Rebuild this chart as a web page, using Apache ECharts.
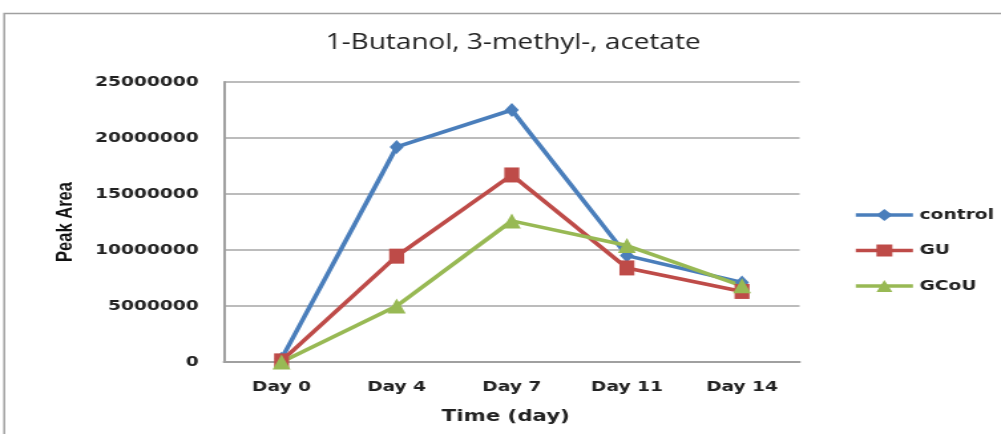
<!DOCTYPE html>
<html>
<head>
<meta charset="utf-8">
<script src="https://cdn.jsdelivr.net/npm/echarts@6/dist/echarts.min.js"></script>
<style>
  html, body { margin: 0; padding: 0; background: #fff; overflow: hidden; }
  /* the chart is laid out narrower and widened to the page width */
  #chart { width: 753px; height: 434px; transform: scaleX(1.3293); transform-origin: 0 0; }
</style>
</head>
<body>
<div id="chart"></div>
<script>
// Sampling days and peak areas per treatment
const days = ['Day 0', 'Day 4', 'Day 7', 'Day 11', 'Day 14'];
const controlValues = [300000, 19200000, 22500000, 9500000, 7100000];
const guValues = [100000, 9450000, 16700000, 8400000, 6300000];
const gcouValues = [0, 5000000, 12600000, 10400000, 6800000];
const yTicks = [0, 5000000, 10000000, 15000000, 20000000, 25000000];

const SX = 1.3293; // horizontal widening applied by CSS
const chart = echarts.init(document.getElementById('chart'));

const tickFont = { fontFamily: 'DejaVu Sans', fontSize: 14, color: '#222', fontWeight: 'bold' };

function line(name, data, color, symbol, w, h) {
  return {
    name, type: 'line', data,
    symbol, symbolSize: [w / SX, h],
    lineStyle: { color, width: 3.6 },
    itemStyle: { color },
    z: 3
  };
}

chart.setOption({
  animation: false,
  graphic: [{
    type: 'rect',
    shape: { x: 3.2, y: 13.5, width: 800, height: 440 },
    style: { fill: 'none', stroke: '#a0a0a0', lineWidth: 1.5 },
    z: -1
  }],
  title: {
    text: '1-Butanol, 3-methyl-, acetate',
    left: 381, top: 28, textAlign: 'center',
    textStyle: { fontFamily: 'Open Sans', fontSize: 21, fontWeight: 'normal', color: '#222' }
  },
  legend: {
    orient: 'vertical',
    left: 637, top: 203,
    itemWidth: 43, itemHeight: 15, itemGap: 21.5,
    lineStyle: { width: 3.6 },
    textStyle: { fontFamily: 'DejaVu Sans', fontSize: 14, fontWeight: 'bold', color: '#222' },
    data: ['control', 'GU', 'GCoU']
  },
  grid: { left: 168.5, right: 151.5, top: 82, bottom: 72 },
  xAxis: {
    type: 'category',
    data: days,
    boundaryGap: true,
    name: 'Time (day)',
    nameLocation: 'middle',
    nameGap: 47,
    nameTextStyle: { fontFamily: 'DejaVu Sans', fontSize: 16, fontWeight: 'bold', color: '#222', padding: [0, 9, 0, 0] },
    axisLine: { lineStyle: { color: '#a0a0a0', width: 2 } },
    axisTick: { show: false },
    axisLabel: Object.assign({ margin: 18 }, tickFont)
  },
  yAxis: {
    type: 'value',
    min: yTicks[0], max: yTicks[yTicks.length - 1], interval: 5000000,
    name: 'Peak Area',
    nameLocation: 'middle',
    nameGap: 111,
    nameTextStyle: { fontFamily: 'Liberation Sans', fontSize: 16.5, fontWeight: 'bold', color: '#111' },
    axisLine: { show: true, lineStyle: { color: '#a0a0a0', width: 2 } },
    axisTick: { show: false },
    splitLine: { lineStyle: { color: '#a6a6a6', width: 1.5 } },
    axisLabel: Object.assign({ margin: 19, formatter: v => String(v) }, tickFont)
  },
  series: [
    line('control', controlValues, '#4a7ebb', 'diamond', 14, 14),
    line('GU', guValues, '#be4b48', 'rect', 15, 15),
    line('GCoU', gcouValues, '#98b954', 'triangle', 18, 15)
  ]
});
</script>
</body>
</html>
